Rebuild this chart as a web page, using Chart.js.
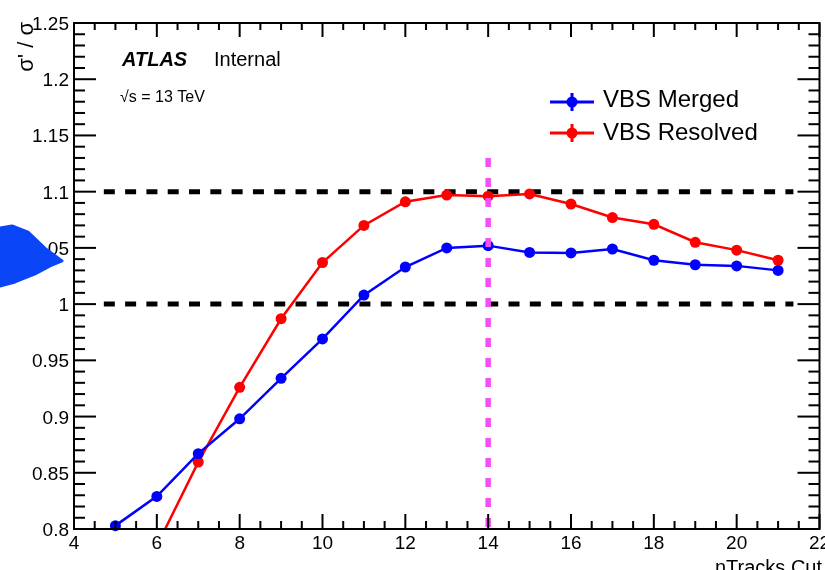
<!DOCTYPE html>
<html>
<head>
<meta charset="utf-8">
<title>sigma ratio vs nTracks cut</title>
<script src="https://cdn.jsdelivr.net/npm/chart.js@4.4.0/dist/chart.umd.min.js"></script>
<style>
  html, body { margin: 0; padding: 0; background: #fff; }
  #wrap { width: 825px; height: 570px; }
</style>
</head>
<body>
<div id="wrap"><canvas id="ratioChart" width="825" height="570"></canvas></div>
<script>
// nTracks cut values and the sigma'/sigma ratio for each selection
const mergedCuts = [5, 6, 7, 8, 9, 10, 11, 12, 13, 14, 15, 16, 17, 18, 19, 20, 21];
const mergedRatio = [0.803, 0.829, 0.867, 0.898, 0.934, 0.969, 1.008, 1.033, 1.050, 1.052, 1.046, 1.0455, 1.049, 1.039, 1.035, 1.034, 1.030];
const resolvedCuts = [6, 7, 8, 9, 10, 11, 12, 13, 14, 15, 16, 17, 18, 19, 20, 21];
const resolvedRatio = [0.785, 0.8595, 0.926, 0.987, 1.037, 1.070, 1.091, 1.097, 1.096, 1.098, 1.089, 1.077, 1.071, 1.055, 1.048, 1.039];

// reference band lines and the chosen cut
const refLevels = [1.0, 1.1];
const refSpan = [4.72, 21.37];
const chosenCut = 14;
const chosenTop = 1.13;

// axis labels
const xTickValues = [4, 6, 8, 10, 12, 14, 16, 18, 20, 22];
const yTickValues = [0.8, 0.85, 0.9, 0.95, 1, 1.05, 1.1, 1.15, 1.2, 1.25];
const yTickLabels = ['0.8', '0.85', '0.9', '0.95', '1', '1.05', '1.1', '1.15', '1.2', '1.25'];

// stray filled marker shape left of the frame
const smudgeX = [2.214, 2.504, 2.890, 3.300, 3.710, 3.421, 3.059, 2.576, 2.214];
const smudgeY = [1.0677, 1.0695, 1.0640, 1.0495, 1.0384, 1.0339, 1.0268, 1.0197, 1.0161];

const FONT = '"Liberation Sans", Arial, Helvetica, sans-serif';

const toXY = (xs, ys) => xs.map((x, i) => ({ x, y: ys[i] }));

const datasets = [
  {
    label: 'cut',
    data: [{ x: chosenCut, y: chosenTop }, { x: chosenCut, y: 0.8 }],
    borderColor: '#f64ef6',
    borderWidth: 5.5,
    borderDash: [9, 11],
    pointRadius: 0,
    showLine: true
  },
  {
    label: 'VBS Merged',
    data: toXY(mergedCuts, mergedRatio),
    borderColor: '#0000ff',
    backgroundColor: '#0000ff',
    borderWidth: 2.5,
    pointRadius: 5.5,
    pointBorderWidth: 0,
    showLine: true,
    clip: { left: 0, top: 0, right: 0, bottom: 8 }
  },
  {
    label: 'VBS Resolved',
    data: toXY(resolvedCuts, resolvedRatio),
    borderColor: '#ff0000',
    backgroundColor: '#ff0000',
    borderWidth: 2.5,
    pointRadius: 5.5,
    pointBorderWidth: 0,
    showLine: true,
    clip: 0
  }
];
refLevels.forEach(level => {
  datasets.push({
    label: 'ref',
    data: refSpan.map(x => ({ x, y: level })),
    borderColor: '#000',
    borderWidth: 5,
    borderDash: [11, 10.3],
    pointRadius: 0,
    showLine: true
  });
});

// filled blob outside the frame, drawn over the axis labels
const smudge = {
  id: 'smudge',
  afterDraw(chart) {
    const { ctx, scales: { x, y } } = chart;
    ctx.save();
    ctx.beginPath();
    smudgeX.forEach((v, i) => {
      const px = x.getPixelForValue(v), py = y.getPixelForValue(smudgeY[i]);
      i ? ctx.lineTo(px, py) : ctx.moveTo(px, py);
    });
    ctx.closePath();
    ctx.fillStyle = '#0a46f7';
    ctx.strokeStyle = '#0a46f7';
    ctx.lineJoin = 'round';
    ctx.lineWidth = 3;
    ctx.fill();
    ctx.stroke();
    ctx.restore();
  }
};

// ROOT style frame: inward ticks on all four sides, labels, titles, legend
const rootFrame = {
  id: 'rootFrame',
  afterDatasetsDraw(chart) {
    const { ctx, chartArea: a, scales: { x, y } } = chart;
    const seg = (x1, y1, x2, y2) => { ctx.beginPath(); ctx.moveTo(x1, y1); ctx.lineTo(x2, y2); ctx.stroke(); };
    ctx.save();
    ctx.strokeStyle = '#000';
    ctx.lineWidth = 2;
    ctx.strokeRect(a.left, a.top, a.right - a.left, a.bottom - a.top);

    for (let i = 0; i <= 36; i++) {
      const px = x.getPixelForValue(4 + i * 0.5);
      const major = i % 4 === 0;
      seg(px, a.bottom, px, a.bottom - (major ? 15 : 8));
      seg(px, a.top, px, a.top + (major ? 14 : 7));
    }
    for (let i = 0; i <= 45; i++) {
      const py = y.getPixelForValue(0.8 + i * 0.01);
      const major = i % 5 === 0;
      seg(a.left, py, a.left + (major ? 22 : 11), py);
      seg(a.right, py, a.right - (major ? 22 : 11), py);
    }

    ctx.fillStyle = '#000';
    ctx.font = '19px ' + FONT;
    ctx.textAlign = 'center';
    ctx.textBaseline = 'alphabetic';
    xTickValues.forEach(v => ctx.fillText(String(v), x.getPixelForValue(v), 549));
    ctx.textAlign = 'right';
    yTickValues.forEach((v, i) => ctx.fillText(yTickLabels[i], 69, y.getPixelForValue(v) + 7));

    // axis titles
    ctx.font = '20px ' + FONT;
    ctx.fillText('nTracks Cut', 822, 574);
    ctx.save();
    ctx.translate(33, 22);
    ctx.rotate(-Math.PI / 2);
    ctx.font = '22px ' + FONT;
    ctx.fillText("\u03c3' / \u03c3", 0, 0);
    ctx.restore();

    // ATLAS label
    ctx.textAlign = 'left';
    ctx.font = 'italic bold 20px ' + FONT;
    ctx.fillText('ATLAS', 122, 66);
    ctx.font = '20px ' + FONT;
    ctx.fillText('Internal', 214, 66);
    ctx.font = '16px ' + FONT;
    ctx.fillText('\u221as = 13 TeV', 120, 102);

    // legend
    [[1, 102, 107], [2, 133, 140]].forEach(([idx, ly, ty]) => {
      const ds = chart.data.datasets[idx];
      ctx.strokeStyle = ds.borderColor;
      ctx.fillStyle = ds.borderColor;
      ctx.lineWidth = 3;
      seg(550, ly, 594, ly);
      seg(572, ly - 9, 572, ly + 9);
      ctx.beginPath();
      ctx.arc(572, ly, 5.5, 0, Math.PI * 2);
      ctx.fill();
      ctx.fillStyle = '#000';
      ctx.font = '24px ' + FONT;
      ctx.fillText(ds.label, 603, ty);
    });
    ctx.restore();
  }
};

new Chart(document.getElementById('ratioChart'), {
  type: 'scatter',
  data: { datasets },
  options: {
    responsive: false,
    animation: false,
    devicePixelRatio: 1,
    layout: { padding: { top: 23, right: 5, left: 0, bottom: 0 } },
    plugins: { legend: { display: false }, tooltip: { enabled: false } },
    scales: {
      x: {
        type: 'linear', min: 4, max: 22,
        grid: { display: false }, border: { display: false },
        ticks: { display: false },
        afterFit: s => { s.height = 41; }
      },
      y: {
        type: 'linear', min: 0.8, max: 1.25,
        grid: { display: false }, border: { display: false },
        ticks: { display: false },
        afterFit: s => { s.width = 74; }
      }
    }
  },
  plugins: [rootFrame, smudge]
});
</script>
</body>
</html>
